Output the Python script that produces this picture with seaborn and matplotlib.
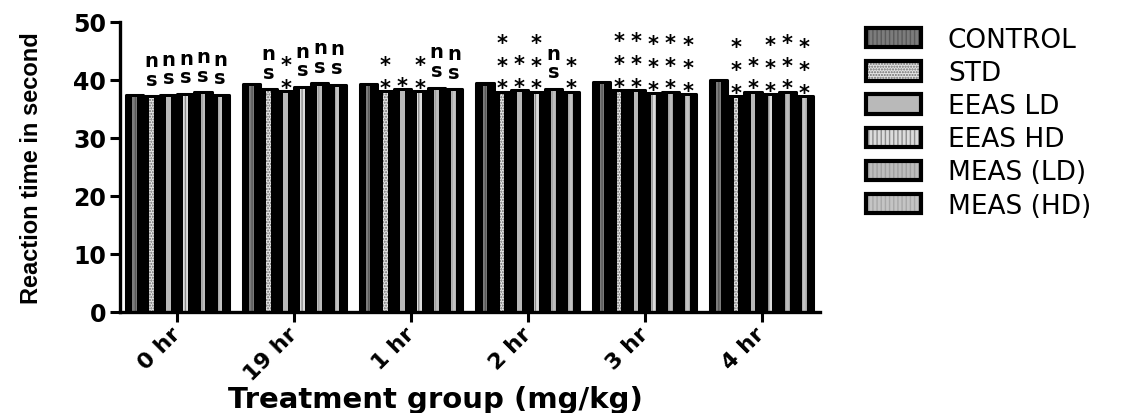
import numpy as np
import pandas as pd
import matplotlib
matplotlib.use("Agg")
import matplotlib.pyplot as plt
import matplotlib.transforms as mtransforms
from matplotlib.patches import Patch
import seaborn as sns

# ---------------- data ----------------
times = ["0 hr", "19 hr", "1 hr", "2 hr", "3 hr", "4 hr"]
groups = ["CONTROL", "STD", "EEAS LD", "EEAS HD", "MEAS (LD)", "MEAS (HD)"]
control = [37.4, 39.3, 39.3, 39.4, 39.6, 40.0]
std = [37.2, 38.4, 38.1, 38.0, 38.3, 37.3]
eeas_ld = [37.4, 38.1, 38.4, 38.3, 38.3, 38.0]
eeas_hd = [37.6, 38.8, 38.1, 38.0, 37.7, 37.6]
meas_ld = [37.9, 39.4, 38.7, 38.5, 38.0, 38.0]
meas_hd = [37.4, 39.2, 38.4, 38.0, 37.6, 37.3]
sig_control = ["", "", "", "", "", ""]
sig_std = ["ns", "ns", "**", "***", "***", "***"]
sig_eeas_ld = ["ns", "**", "*", "**", "***", "**"]
sig_eeas_hd = ["ns", "ns", "**", "***", "***", "***"]
sig_meas_ld = ["ns", "ns", "ns", "ns", "***", "***"]
sig_meas_hd = ["ns", "ns", "ns", "**", "***", "***"]
y_label = "Reaction time in second"
x_label = "Treatment group (mg/kg)"

series = [control, std, eeas_ld, eeas_hd, meas_ld, meas_hd]
sigs = [sig_control, sig_std, sig_eeas_ld, sig_eeas_hd, sig_meas_ld, sig_meas_hd]
rows = []
for g, vals in zip(groups, series):
    for t, v in zip(times, vals):
        rows.append({"time": t, "group": g, "value": v})
df = pd.DataFrame(rows)

# ---------------- style ----------------
sns.set_style("ticks")
plt.rcParams["font.family"] = ["DejaVu Sans"]
plt.rcParams["hatch.linewidth"] = 1.0
for key in ["text.color", "axes.labelcolor", "xtick.color", "ytick.color",
            "axes.edgecolor"]:
    plt.rcParams[key] = "black"

fill_cols = ["#7c7c7c", "#e4e4e4", "#b9b9b9", "#dcdcdc", "#bdbdbd", "#c4c4c4"]
hatch_cols = ["#5a5a5a", "#6a6a6a", "#b9b9b9", "#8c8c8c", "#a0a0a0", "#a8a8a8"]
hatches = ["||||", "......", "", "||||", "||||", "||||"]

fig = plt.figure(figsize=(11.47, 4.14), dpi=100)
ax = fig.add_axes([120 / 1147, 1 - 313 / 414, 700 / 1147, 290 / 414])

# black bodies
sns.barplot(data=df, x="time", y="value", hue="group", order=times,
            hue_order=groups, palette=["black"] * 6, saturation=1,
            width=0.88, edgecolor="black", linewidth=2.2, errorbar=None,
            legend=False, ax=ax)
n_body = len(ax.containers)
for cont in ax.containers:
    for p in cont:
        p.set_joinstyle("round")

# grey inner stripes
sns.barplot(data=df, x="time", y="value", hue="group", order=times,
            hue_order=groups, palette=fill_cols, saturation=1,
            width=0.88, linewidth=0, errorbar=None, legend=False, ax=ax)
stripe_w = 0.04
for h, cont in enumerate(ax.containers[n_body:]):
    for p in cont:
        cx = p.get_x() + p.get_width() / 2
        p.set_x(cx - stripe_w / 2)
        p.set_width(stripe_w)
        p.set_height(p.get_height() - 0.35)
        p.set_edgecolor(hatch_cols[h])
        p.set_linewidth(0)
        if hatches[h]:
            p.set_hatch(hatches[h])

# significance marks
ann_font = dict(fontsize=14, fontweight="bold", family="DejaVu Sans",
                ha="center", va="baseline", color="black")
for h, cont in enumerate(ax.containers[:n_body]):
    for t, p in enumerate(cont):
        mark = sigs[h][t]
        if not mark:
            continue
        cx = p.get_x() + p.get_width() / 2
        top = p.get_height()
        if mark == "ns":
            ax.text(cx, top + 2.0, "s", **ann_font)
            ax.text(cx, top + 5.2, "n", **ann_font)
        else:
            for k in range(len(mark)):
                ax.text(cx, top - 0.5 + 3.95 * k, "*",
                        **{**ann_font, "fontsize": 15})

ax.set_ylim(0, 50)
ax.set_xlim(-0.49, 5.5)
ax.set_yticks([0, 10, 20, 30, 40, 50])
sns.despine(ax=ax)
for s in ["left", "bottom"]:
    ax.spines[s].set_linewidth(2.4)
    ax.spines[s].set_color("black")
ax.tick_params(axis="both", width=2.2, length=7, direction="out",
               colors="black")
ax.tick_params(axis="y", labelsize=17, pad=3)
for lab in ax.get_yticklabels():
    lab.set_fontweight("bold")

ax.set_xticks(range(len(times)))
ax.set_xticklabels(times, rotation=45, ha="right", va="center",
                   rotation_mode="anchor", fontsize=16, fontweight="bold")
off = mtransforms.ScaledTranslation(8 / 100, -4 / 100, fig.dpi_scale_trans)
for lab in ax.get_xticklabels():
    lab.set_transform(lab.get_transform() + off)
ax.tick_params(axis="x", pad=6)

ax.set_xlabel(x_label, fontsize=21, fontweight="bold", color="black")
ax.xaxis.set_label_coords(0.45, -0.25)
ax.set_ylabel(y_label, fontsize=17, fontweight="bold", color="black",
              family="Liberation Sans")
ax.yaxis.set_label_coords(-0.11, 0.5)

# legend
handles = []
for h in range(len(groups)):
    inner = Patch(facecolor=fill_cols[h], edgecolor=hatch_cols[h],
                  hatch=hatches[h] if hatches[h] else None, linewidth=0)
    outer = Patch(facecolor="none", edgecolor="black", linewidth=3)
    handles.append((inner, outer))
leg = fig.legend(handles, groups, loc="upper left",
                 bbox_to_anchor=(866 / 1147, 1 - 28 / 414),
                 frameon=False, fontsize=19, handlelength=2.1,
                 handleheight=0.75, handletextpad=1.0, labelspacing=0.27,
                 borderpad=0, borderaxespad=0)
for txt in leg.get_texts():
    txt.set_color("black")

fig.savefig("out.png", dpi=100)
